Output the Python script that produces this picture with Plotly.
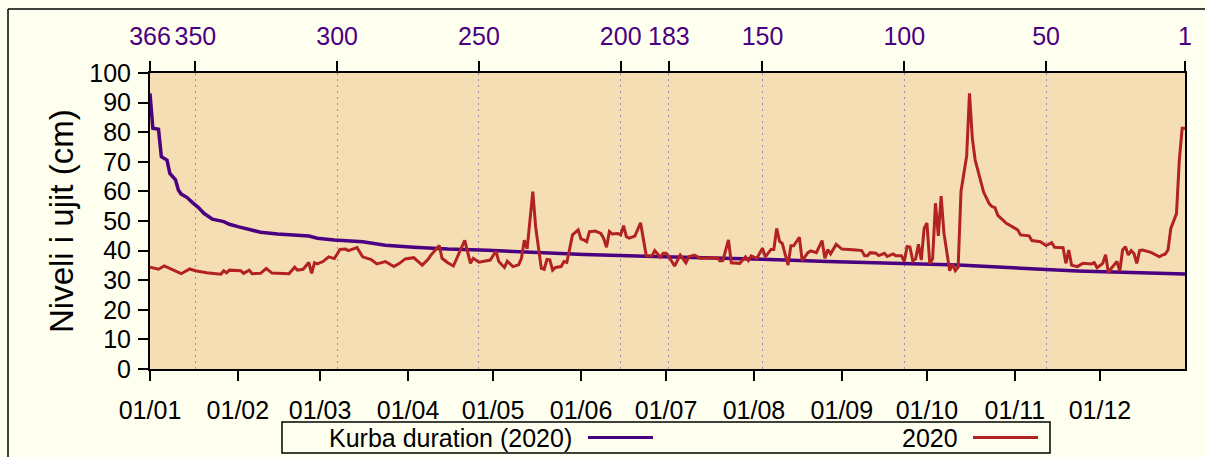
import plotly.graph_objects as go
import pandas as pd

# ---------------- data ----------------
# Daily water level 2020 (red): day index from 1 Jan (vertex points)
red_day = [0, 3, 5, 8, 11, 14, 16, 20, 25, 26, 27, 28, 32, 33, 35, 36, 39, 41, 43, 49,
           51, 52, 54, 56, 57, 58, 59, 61, 63, 65, 67, 69, 70, 73, 75, 78, 80, 83, 86, 88,
           90, 93, 96, 98, 99, 102, 103, 105, 107, 111, 113, 114, 116, 120, 122, 123, 125, 126, 128, 130,
           131, 132, 133, 135, 136, 138, 139, 140, 141, 142, 143, 145, 146, 147, 149, 151, 152, 153, 154, 155,
           157, 159, 160, 161, 162, 163, 165, 166, 167, 168, 169, 171, 173, 175, 177, 178, 180, 181, 182, 183,
           185, 187, 189, 190, 192, 194, 197, 200, 201, 202, 204, 205, 208, 210, 211, 212, 214, 216, 217, 219,
           220, 221, 222, 223, 225, 226, 227, 229, 230, 232, 233, 235, 237, 238, 239, 240, 242, 244, 249, 251,
           252, 253, 254, 256, 257, 259, 260, 262, 263, 265, 266, 267, 268, 269, 270, 271, 272, 273, 274, 275,
           276, 277, 278, 279, 280, 282, 283, 284, 285, 286, 287, 288, 289, 290, 291, 293, 294, 296, 297, 298,
           299, 302, 306, 307, 310, 311, 314, 316, 318, 319, 322, 323, 324, 325, 327, 329, 332, 333, 334, 336,
           337, 338, 339, 341, 342, 343, 344, 345, 346, 347, 348, 349, 350, 353, 356, 357, 358, 359, 360, 362,
           363, 364, 365]
red_level = [34.4, 33.7, 34.8, 33.4, 32.2, 33.8, 33.2, 32.5, 32.0, 33.2, 32.5, 33.4, 33.2, 32.3, 33.4, 32.2, 32.3, 34.0, 32.4, 32.2,
             34.4, 33.4, 33.7, 36.0, 32.3, 35.9, 35.5, 36.3, 37.9, 37.3, 40.4, 40.5, 40.0, 41.0, 37.9, 37.0, 35.5, 36.3, 34.6, 35.7,
             37.2, 37.6, 35.1, 37.0, 38.4, 41.7, 37.4, 35.9, 34.8, 43.5, 35.7, 37.4, 36.1, 36.8, 39.8, 36.3, 34.3, 36.4, 34.6, 35.2,
             37.4, 43.5, 40.6, 59.9, 48.0, 34.0, 33.7, 37.0, 36.9, 33.4, 34.3, 34.6, 36.3, 36.0, 45.3, 47.0, 43.9, 43.6, 43.0, 46.4,
             46.6, 45.8, 44.1, 41.1, 46.4, 45.6, 45.8, 45.3, 48.4, 44.7, 44.2, 44.9, 49.4, 38.3, 38.2, 40.0, 37.8, 39.1, 39.1, 37.9,
             34.8, 38.5, 35.9, 37.9, 38.5, 37.4, 37.6, 37.6, 36.5, 36.6, 43.6, 35.9, 35.7, 37.9, 36.6, 38.2, 37.4, 40.8, 37.9, 40.4,
             40.4, 47.5, 43.2, 42.4, 35.1, 41.6, 41.6, 44.5, 36.6, 39.3, 39.9, 39.3, 43.4, 37.4, 40.3, 38.9, 42.1, 40.5, 40.2, 40.0,
             38.3, 38.3, 39.3, 39.1, 38.3, 39.1, 38.0, 38.9, 38.3, 38.3, 36.3, 41.4, 41.2, 36.5, 37.2, 42.1, 36.8, 47.5, 49.3, 35.5,
             37.3, 56.0, 45.0, 58.4, 45.8, 33.2, 35.4, 33.2, 34.4, 60.0, 66.0, 72.0, 93.1, 77.9, 70.6, 62.7, 59.7, 55.8, 54.8, 54.5,
             51.9, 49.2, 47.0, 45.3, 45.0, 43.4, 43.0, 41.7, 42.7, 41.1, 41.0, 35.7, 40.2, 35.1, 34.6, 35.7, 35.5, 35.9, 34.2, 35.7,
             38.6, 32.4, 34.0, 36.3, 33.1, 40.2, 41.3, 38.5, 40.0, 39.0, 35.7, 40.0, 40.2, 39.4, 37.9, 38.5, 38.8, 40.2, 47.5, 52.5,
             70.6, 81.3, 81.3]

# Duration curve (purple): rank (top axis) and level
dur_rank = [366, 365, 363, 362, 360, 359, 357, 356, 355, 353, 351, 349, 347, 344, 340, 338, 335, 331, 327, 321,
            315, 310, 307, 301, 291, 283, 273, 261, 247, 230, 213, 188, 170, 150, 127, 100, 81, 67, 56, 50,
            39, 27, 15, 1]
dur_level = [93.1, 81.3, 81.0, 71.7, 70.6, 66.1, 63.9, 60.5, 59.1, 58.0, 56.2, 54.6, 52.6, 50.6, 49.8, 48.9, 48.1, 47.0, 46.2, 45.6,
             45.2, 44.9, 44.2, 43.6, 43.0, 41.8, 41.1, 40.5, 40.1, 39.4, 38.7, 38.0, 37.6, 37.1, 36.3, 35.7, 35.1, 34.5, 34.1, 33.6,
             33.1, 32.7, 32.3, 32.1]

top_ticks = [366, 350, 300, 250, 200, 183, 150, 100, 50, 1]
month_ticks = [f"2020-{m:02d}-01" for m in range(1, 13)]
month_labels = [f"01/{m:02d}" for m in range(1, 13)]
y_ticks = list(range(0, 101, 10))

series_names = ["Kurba duration (2020)", "2020"]
y_title = "Niveli i ujit (cm)"

# ---------------- figure ----------------
PURPLE = "#4B0082"
RED = "#B22222"
FONT = "Liberation Sans, Arial, sans-serif"
FS = 25

W, H = 1205, 457
ML, MR, MT, MB = 150, 20, 73, 88
PW, PH = W - ML - MR, H - MT - MB


def px(x):
    return (x - ML) / PW


def py(y):
    return (H - MB - y) / PH


red_dates = pd.Timestamp("2020-01-01") + pd.to_timedelta(red_day, unit="D")

fig = go.Figure()
fig.add_trace(go.Scatter(x=dur_rank, y=dur_level, mode="lines", name=series_names[0],
                         line=dict(color=PURPLE, width=3.5), xaxis="x", yaxis="y"))
fig.add_trace(go.Scatter(x=red_dates, y=red_level, mode="lines", name=series_names[1],
                         line=dict(color=RED, width=3), xaxis="x2", yaxis="y"))

axis_common = dict(ticks="outside", ticklen=10, tickwidth=1.5, tickcolor="black",
                   showline=True, linecolor="black", linewidth=2, zeroline=False,
                   automargin=False)

fig.update_layout(
    width=W, height=H, autosize=False,
    margin=dict(l=ML, r=MR, t=MT, b=MB, pad=0, autoexpand=False),
    paper_bgcolor="#FFFFF0", plot_bgcolor="#F5DEB3",
    showlegend=False,
    font=dict(family=FONT, size=FS, color="black"),
    xaxis=dict(range=[366, 1], side="top", anchor="y", tickmode="array",
               tickvals=top_ticks, ticktext=[str(t) for t in top_ticks],
               tickfont=dict(color=PURPLE, size=FS, family=FONT),
               showgrid=True, gridcolor="#a08cbc", gridwidth=1, griddash="2px,4px",
               ticklabelstandoff=6, **axis_common),
    xaxis2=dict(overlaying="x", side="bottom", anchor="y", type="date",
                range=["2020-01-01", "2020-12-31"], tickmode="array",
                tickvals=month_ticks, ticktext=month_labels,
                tickfont=dict(size=FS, family=FONT, color="black"),
                showgrid=False, ticklabelstandoff=8, **axis_common),
    yaxis=dict(range=[0, 100], tickmode="array", tickvals=y_ticks,
               tickfont=dict(size=FS, family=FONT, color="black"),
               mirror=True, showgrid=False, ticklabelstandoff=2, **axis_common),
)

# y-axis title
fig.add_annotation(text=y_title, xref="paper", yref="paper", x=px(61), y=py(221),
                   textangle=-90, showarrow=False, xanchor="center", yanchor="middle",
                   font=dict(size=33, family=FONT, color="black"))

# outer frame (left and top edges visible)
fig.add_shape(type="line", xref="paper", yref="paper", x0=px(8), x1=px(1215), y0=py(9), y1=py(9),
              line=dict(color="black", width=1.5))
fig.add_shape(type="line", xref="paper", yref="paper", x0=px(8), x1=px(8), y0=py(9), y1=py(470),
              line=dict(color="black", width=1.5))

# legend box (gnuplot style)
fig.add_shape(type="rect", xref="paper", yref="paper", x0=px(282), x1=px(1050), y0=py(453), y1=py(422),
              line=dict(color="black", width=1.5), fillcolor="#FFFFF0")
ly = py(437.5)
fig.add_annotation(text=series_names[0], xref="paper", yref="paper", x=px(574), y=ly,
                   xanchor="right", yanchor="middle", showarrow=False,
                   font=dict(size=FS, family=FONT, color="black"))
fig.add_shape(type="line", xref="paper", yref="paper", x0=px(588), x1=px(653), y0=ly, y1=ly,
              line=dict(color=PURPLE, width=3))
fig.add_annotation(text=series_names[1], xref="paper", yref="paper", x=px(960), y=ly,
                   xanchor="right", yanchor="middle", showarrow=False,
                   font=dict(size=FS, family=FONT, color="black"))
fig.add_shape(type="line", xref="paper", yref="paper", x0=px(973), x1=px(1038), y0=ly, y1=ly,
              line=dict(color=RED, width=3))

fig.write_html("out.html", config={"displayModeBar": False},
               post_script="document.body.style.margin='0';document.body.style.background='#FFFFF0';")
